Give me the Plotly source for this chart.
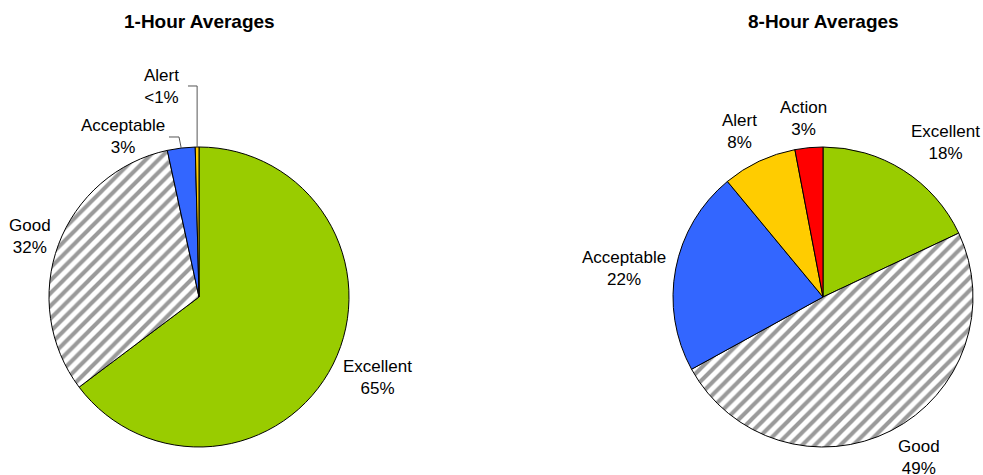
import math
import plotly.graph_objects as go

# ---- data -------------------------------------------------------------
categories_1h = ["Excellent", "Good", "Acceptable", "Alert"]
values_1h = [65, 32, 3, 0.4]
labels_1h = ["65%", "32%", "3%", "<1%"]

categories_8h = ["Excellent", "Good", "Acceptable", "Alert", "Action"]
values_8h = [18, 49, 22, 8, 3]
labels_8h = ["18%", "49%", "22%", "8%", "3%"]

titles = ["1-Hour Averages", "8-Hour Averages"]

# ---- styling ----------------------------------------------------------
W, H = 983, 475
FONT = "Liberation Sans, Arial, sans-serif"
COLOR = {
    "Excellent": "#99CC00",
    "Good": "#FFFFFF",
    "Acceptable": "#3366FF",
    "Alert": "#FFCC00",
    "Action": "#FF0000",
}

# pie geometry in pixels: (centre x, centre y, radius)
PIES = [(199, 297, 150), (823, 297, 150)]

# label block centres (pixels) and optional leader-line start / elbow
LABEL_POS_1H = {
    "Excellent": (377, 377, None),
    "Good": (30, 236, None),
    "Acceptable": (123, 137, (169, 179)),
    "Alert": (161, 86, (188, None)),
}
LABEL_POS_8H = {
    "Excellent": (945, 142, None),
    "Good": (919, 457, None),
    "Acceptable": (624, 268, None),
    "Alert": (739, 132, None),
    "Action": (803, 118, None),
}


def px(x, y):
    return x / W, 1 - y / H


def pie_trace(cats, vals, geom):
    cx, cy, r = geom
    x0, y0 = px(cx - r, cy + r)
    x1, y1 = px(cx + r, cy - r)
    return go.Pie(
        labels=cats,
        values=vals,
        sort=False,
        direction="clockwise",
        rotation=0,
        textinfo="none",
        hoverinfo="label+percent",
        showlegend=False,
        domain=dict(x=[x0, x1], y=[y0, y1]),
        marker=dict(
            colors=[COLOR[c] for c in cats],
            line=dict(color="#000000", width=1),
            pattern=dict(
                shape=["/" if c == "Good" else "" for c in cats],
                fgcolor=["#9A9A9A"] * len(cats),
                bgcolor=[COLOR[c] for c in cats],
                size=9,
                solidity=0.45,
            ),
        ),
    )


fig = go.Figure()
fig.add_trace(pie_trace(categories_1h, values_1h, PIES[0]))
fig.add_trace(pie_trace(categories_8h, values_8h, PIES[1]))

annotations = []
shapes = []


def slice_mid_edge(vals, idx, geom):
    cx, cy, r = geom
    total = sum(vals)
    start = sum(vals[:idx]) / total * 360
    mid = start + vals[idx] / total * 360 / 2
    a = math.radians(mid)
    return cx + r * math.sin(a), cy - r * math.cos(a)


for cats, vals, pcts, pos, geom in [
    (categories_1h, values_1h, labels_1h, LABEL_POS_1H, PIES[0]),
    (categories_8h, values_8h, labels_8h, LABEL_POS_8H, PIES[1]),
]:
    for i, c in enumerate(cats):
        lx, ly, leader = pos[c]
        ax, ay = px(lx, ly)
        annotations.append(dict(
            x=ax, y=ay, xref="paper", yref="paper",
            text=f"{c}<br>{pcts[i]}", showarrow=False,
            xanchor="center", yanchor="middle", align="center",
            font=dict(family=FONT, size=17, color="#000000"),
        ))
        if leader:
            ex, ey = slice_mid_edge(vals, i, geom)
            sx, elbow_x = leader
            if elbow_x is None:
                pts = [(sx, ly), (ex, ly), (ex, ey)]
            else:
                pts = [(sx, ly), (elbow_x, ly), (ex, ey)]
            path = "M " + " L ".join(
                f"{px(x, y)[0]:.5f},{px(x, y)[1]:.5f}" for x, y in pts)
            shapes.append(dict(type="path", path=path, xref="paper",
                               yref="paper",
                               line=dict(color="#555555", width=1)))

for t, (cx, cy, r) in zip(titles, PIES):
    tx, ty = px(cx, 22)
    annotations.append(dict(
        x=tx, y=ty, xref="paper", yref="paper", text=f"<b>{t}</b>",
        showarrow=False, xanchor="center", yanchor="middle",
        font=dict(family=FONT, size=19, color="#000000"),
    ))

fig.update_layout(
    width=W, height=H,
    margin=dict(l=0, r=0, t=0, b=0),
    paper_bgcolor="#FFFFFF",
    plot_bgcolor="#FFFFFF",
    annotations=annotations,
    shapes=shapes,
)

fig.write_html("out.html")
